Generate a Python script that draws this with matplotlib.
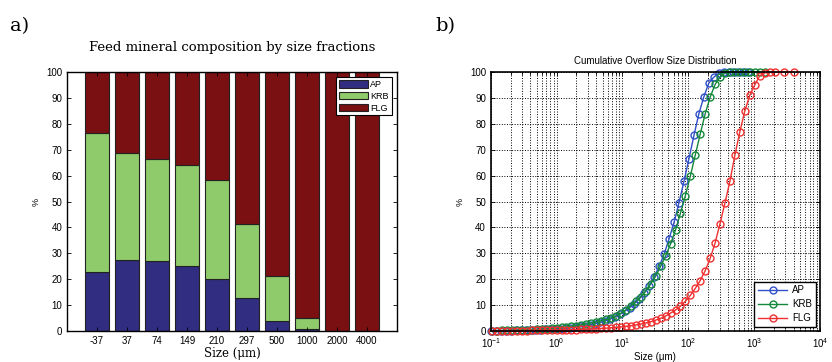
import numpy as np
import matplotlib
matplotlib.use("Agg")
import matplotlib.pyplot as plt
from matplotlib.ticker import LogLocator, NullFormatter, NullLocator

plt.rcParams['font.family'] = ['Liberation Sans', 'DejaVu Sans']
plt.rcParams['mathtext.fontset'] = 'custom'
plt.rcParams['mathtext.rm'] = 'Liberation Sans'

# ---- a) feed composition by size fraction (stacked %)
size_labels = ['-37', '37', '74', '149', '210', '297', '500', '1000', '2000', '4000']
ap_pct = [22.7, 27.5, 27.2, 25.2, 20.1, 12.8, 4.0, 0.8, 0.0, 0.0]
krb_pct = [53.6, 41.2, 39.3, 39.0, 38.1, 28.7, 17.1, 4.3, 0.0, 0.0]
flg_pct = [23.7, 31.3, 33.5, 35.8, 41.8, 58.5, 78.9, 94.9, 100.0, 100.0]

# ---- b) cumulative overflow size distribution
ap_size = [0.100, 0.119, 0.141, 0.168, 0.200, 0.238, 0.283, 0.336, 0.400, 0.476,
           0.566, 0.673, 0.800, 0.951, 1.13, 1.35, 1.60, 1.90, 2.26, 2.69,
           3.20, 3.81, 4.53, 5.38, 6.40, 7.61, 9.05, 10.8, 12.8, 15.2,
           18.1, 21.5, 25.6, 30.4, 36.2, 43.1, 51.2, 60.9, 72.4, 86.1,
           102, 122, 145, 172, 205, 244, 290, 345, 410, 487,
           579, 689, 819]
ap_cum = [0.08, 0.1, 0.12, 0.14, 0.17, 0.21, 0.25, 0.3, 0.36, 0.43,
          0.5, 0.6, 0.7, 0.82, 0.95, 1.1, 1.3, 1.5, 1.75, 2.05,
          2.4, 2.8, 3.3, 3.9, 4.6, 5.4, 6.4, 7.6, 9.0, 10.6,
          12.5, 14.8, 17.5, 21.0, 25.0, 29.8, 35.7, 42.0, 49.6, 57.8,
          66.3, 75.5, 83.9, 90.3, 95.7, 98.0, 99.5, 100, 100, 100,
          100, 100, 100]

fine_size = [0.105, 0.125, 0.148, 0.176, 0.21, 0.25, 0.297, 0.353, 0.42, 0.5,
             0.594, 0.707, 0.84, 1.0, 1.19, 1.41, 1.68, 2.0, 2.38, 2.83,
             3.36, 4.0, 4.76, 5.66, 6.73, 8.0, 9.51, 11.3, 13.5, 16.0,
             19.0, 22.6, 26.9, 32.0, 38.1, 45.3, 53.8, 64.0, 76.1, 90.5,
             108, 128, 152, 181, 215, 256, 304, 362, 431, 512,
             609, 724, 861, 1024, 1218, 1448, 1722, 2048, 2896, 4096]
krb_cum = [0.15, 0.18, 0.2, 0.25, 0.3, 0.35, 0.42, 0.5, 0.58, 0.68,
           0.8, 0.92, 1.05, 1.2, 1.38, 1.6, 1.85, 2.1, 2.4, 2.75,
           3.1, 3.5, 4.0, 4.5, 5.1, 5.9, 6.9, 8.2, 9.8, 11.4,
           13.2, 15.4, 18.2, 21.2, 25.0, 29.0, 33.6, 39.0, 45.5, 52.3,
           60.0, 68.0, 76.1, 83.9, 90.3, 95.2, 98.0, 99.6, 100, 100,
           100, 100, 100, 100, 100, 100]
flg_cum = [0.08, 0.09, 0.1, 0.11, 0.13, 0.15, 0.17, 0.19, 0.21, 0.24,
           0.27, 0.3, 0.34, 0.38, 0.42, 0.47, 0.52, 0.58, 0.65, 0.72,
           0.8, 0.9, 1.0, 1.1, 1.25, 1.4, 1.6, 1.8, 2.05, 2.35,
           2.7, 3.1, 3.6, 4.2, 4.9, 5.8, 6.9, 8.1, 9.6, 11.5,
           13.8, 16.5, 19.5, 23.3, 28, 34, 41.5, 49.5, 58, 68,
           77, 85, 91, 95, 98.5, 99.7, 100, 100, 100, 100]

fig = plt.figure(figsize=(8.32, 3.62), dpi=100)

# ---------------- panel a
ax1 = fig.add_axes([0.0805, 0.0856, 0.3966, 0.7155])
pos = np.arange(1, len(size_labels) + 1)
edge = dict(edgecolor='#222222', linewidth=0.8, width=0.8)
ax1.bar(pos, ap_pct, color='#312d80', label='AP', **edge)
ax1.bar(pos, krb_pct, bottom=ap_pct, color='#8fcb6b', label='KRB', **edge)
bottom2 = np.array(ap_pct) + np.array(krb_pct)
ax1.bar(pos, flg_pct, bottom=bottom2, color='#7a1012', label='FLG', **edge)
ax1.set_xlim(0, 11)
ax1.set_ylim(0, 100)
ax1.set_xticks(pos)
ax1.set_xticklabels(size_labels)
ax1.set_yticks(range(0, 101, 10))
ax1.tick_params(direction='in', length=3, labelsize=7, top=True, right=True, width=0.6)
ax1.set_ylabel('%', fontsize=6.5)
ax1.set_xlabel('Size (\u03bcm)', family='DejaVu Serif', fontsize=8.5, labelpad=1)
ax1.set_title('Feed mineral composition by size fractions', family='DejaVu Serif',
              fontsize=9.5, pad=15)
for s in ax1.spines.values():
    s.set_linewidth(1.0)
leg1 = ax1.legend(loc='upper right', fontsize=6.5, fancybox=False, edgecolor='black',
                  framealpha=1, handlelength=3.2, handleheight=0.9, borderaxespad=0.6,
                  labelspacing=0.3, handletextpad=0.3, borderpad=0.3)
leg1.get_frame().set_linewidth(0.8)

# ---------------- panel b
ax2 = fig.add_axes([0.590, 0.0856, 0.3954, 0.7155])
mk = dict(marker='o', markersize=5, markerfacecolor='none', markeredgewidth=1.0,
          linewidth=1.0, clip_on=False)
ax2.plot(ap_size, ap_cum, color='#3050c8', label='AP', **mk)
ax2.plot(fine_size[:len(krb_cum)], krb_cum, color='#14883a', label='KRB', **mk)
ax2.plot(fine_size, flg_cum, color='#f03030', label='FLG', **mk)
ax2.set_xscale('log')
ax2.set_xlim(0.1, 1e4)
ax2.set_ylim(0, 100)
ax2.set_yticks(range(0, 101, 10))
ax2.xaxis.set_major_locator(LogLocator(base=10, numticks=10))
ax2.xaxis.set_minor_locator(LogLocator(base=10, subs=np.arange(2, 10), numticks=10))
ax2.xaxis.set_minor_formatter(NullFormatter())
ax2.yaxis.set_minor_locator(NullLocator())
ax2.grid(True, which='major', axis='both', linestyle=':', color='black', linewidth=0.7)
ax2.grid(True, which='minor', axis='x', linestyle=':', color='black', linewidth=0.7)
ax2.tick_params(which='both', direction='in', top=True, right=True, width=0.6)
ax2.tick_params(which='major', length=3, labelsize=7)
ax2.tick_params(which='minor', length=1.8)
ax2.set_ylabel('%', fontsize=6.5)
ax2.set_xlabel('Size (\u03bcm)', fontsize=7, labelpad=2)
ax2.set_title('Cumulative Overflow Size Distribution', fontsize=7, pad=6)
for s in ax2.spines.values():
    s.set_linewidth(1.2)
leg2 = ax2.legend(loc='lower right', fontsize=7, fancybox=False, edgecolor='black',
                  framealpha=1, handlelength=3.0, borderaxespad=0.4,
                  labelspacing=0.4, handletextpad=0.5)
leg2.get_frame().set_linewidth(1.0)

fig.text(0.012, 0.915, 'a)', family='DejaVu Serif', fontsize=14)
fig.text(0.523, 0.915, 'b)', family='DejaVu Serif', fontsize=14)

fig.savefig('out.png', dpi=100)
